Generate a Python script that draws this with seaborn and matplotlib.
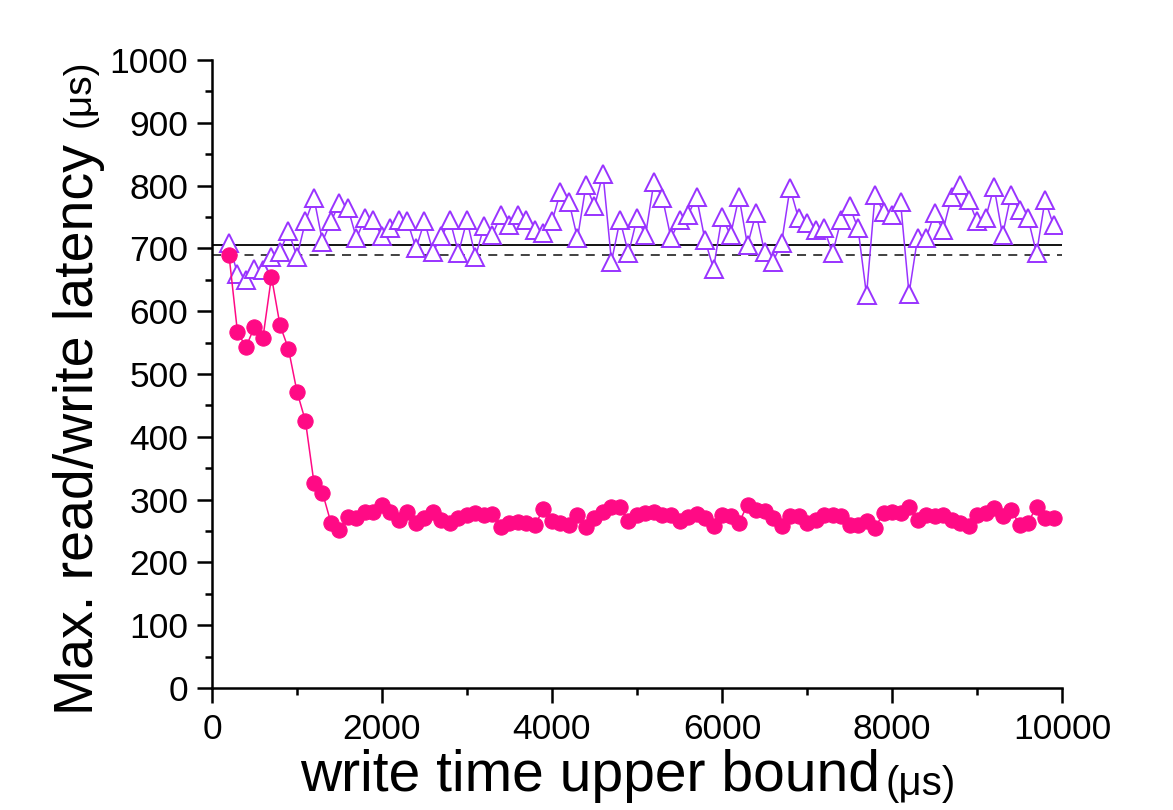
import numpy as np
import pandas as pd
import matplotlib
matplotlib.use('Agg')
import matplotlib.pyplot as plt
from matplotlib.ticker import MultipleLocator
import seaborn as sns

# write time upper bound (us), one point every 100 us
write_bound = list(range(200, 10000, 100))

# max latency with the write bound applied (filled pink circles)
latency_bounded = [
    690, 567, 543, 575, 558, 655, 578, 540, 472,
    425, 327, 311, 263, 252, 272, 270, 280, 280,
    291, 280, 268, 281, 262, 271, 281, 268, 262, 271,
    276, 278, 276, 277, 256, 262, 265, 262, 260, 285,
    266, 263, 260, 276, 256, 271, 281, 289, 288, 266,
    276, 279, 281, 276, 276, 266, 272, 277, 271, 258,
    276, 274, 263, 292, 284, 282, 271, 258, 274, 274,
    263, 268, 276, 276, 274, 260, 260, 266, 255, 279,
    281, 279, 289, 268, 276, 274, 276, 268, 263, 258,
    276, 279, 287, 274, 284, 260, 263, 289, 271, 271,
]

# max latency without the bound (open purple triangles)
latency_default = [
    708, 660, 650, 668, 666, 687, 695, 727, 687,
    743, 780, 711, 743, 772, 764, 716, 748, 745,
    719, 732, 745, 743, 700, 743, 695, 719, 745, 693,
    745, 687, 735, 722, 753, 737, 753, 745, 729, 724,
    743, 790, 774, 716, 801, 767, 819, 679, 745, 692,
    748, 721, 806, 780, 716, 745, 753, 782, 713, 668,
    750, 721, 782, 705, 756, 695, 679, 708, 796, 748,
    740, 730, 732, 692, 745, 767, 732, 626, 785, 758,
    753, 774, 628, 716, 716, 756, 729, 782, 801, 777,
    743, 748, 798, 721, 785, 761, 748, 692, 777, 737,
]

ref_solid = 705
ref_dashed = 690

df = pd.DataFrame({'bound': write_bound,
                   'bounded': latency_bounded,
                   'default': latency_default})

sns.set_style('ticks')
plt.rcParams['font.family'] = ['Liberation Sans', 'DejaVu Sans']
plt.rcParams['text.color'] = 'black'

pink = '#ff0a85'
purple = '#9933ff'

fig = plt.figure(figsize=(11.73, 8.10), dpi=100)
ax = fig.add_axes([0.1807, 0.1506, 0.7247, 0.7753])

ax.axhline(ref_solid, color='black', lw=1.3, zorder=1)
ax.axhline(ref_dashed, color='#333333', lw=1.3, ls=(0, (5, 4)), zorder=1)

sns.lineplot(data=df, x='bound', y='default', ax=ax, color=purple, lw=1.1,
             marker='^', markersize=13.5, markerfacecolor='white',
             markeredgecolor=purple, markeredgewidth=1.4, zorder=2)
sns.lineplot(data=df, x='bound', y='bounded', ax=ax, color=pink, lw=1.1,
             marker='o', markersize=11, markerfacecolor=pink,
             markeredgecolor=pink, zorder=3)

ax.set_xlim(0, 10000)
ax.set_ylim(0, 1000)
ax.xaxis.set_major_locator(MultipleLocator(2000))
ax.xaxis.set_minor_locator(MultipleLocator(1000))
ax.yaxis.set_major_locator(MultipleLocator(100))
ax.yaxis.set_minor_locator(MultipleLocator(50))
ax.tick_params(which='major', direction='out', length=11, width=1.8,
               labelsize=25.5, color='black', labelcolor='black')
ax.tick_params(which='minor', direction='out', length=5, width=1.8, color='black')
ax.tick_params(axis='y', which='major', pad=6)
ax.tick_params(axis='x', which='major', pad=7)
ax.set_xlabel('')
ax.set_ylabel('')

sns.despine(ax=ax)
for side in ['left', 'bottom']:
    ax.spines[side].set_linewidth(1.8)
    ax.spines[side].set_color('black')

# axis titles, the unit part is set smaller like in the original
fig.text(93 / 1173, 1 - 715 / 810, 'Max. read/write latency', rotation=90,
         rotation_mode='anchor', ha='left', va='baseline', fontsize=40)
fig.text(90 / 1173, 1 - 127 / 810, '(μs)', rotation=90,
         rotation_mode='anchor', ha='left', va='baseline', fontsize=28)
fig.text(880 / 1173, 1 - 791 / 810, 'write time upper bound', ha='right',
         va='baseline', fontsize=41)
fig.text(886 / 1173, 1 - 795 / 810, '(μs)', ha='left', va='baseline',
         fontsize=29)

fig.savefig('out.png', dpi=100)
